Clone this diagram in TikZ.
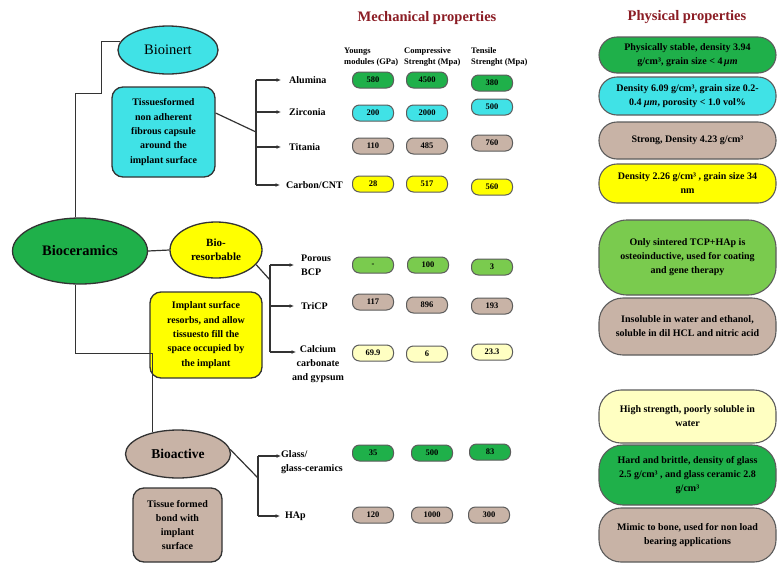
\documentclass[tikz,border=0pt]{standalone}
\usepackage{fontspec}
\setmainfont{Liberation Serif}
\usepackage{xcolor}
\usepackage{tikz}
\usetikzlibrary{arrows.meta, shapes.geometric, calc}
\definecolor{dg}{HTML}{1FB04A}
\definecolor{cy}{HTML}{40E2E6}
\definecolor{tp}{HTML}{C8B3A6}
\definecolor{ye}{HTML}{FFFF00}
\definecolor{lg}{HTML}{7ACB4E}
\definecolor{py}{HTML}{FFFFC2}
\definecolor{tt}{HTML}{8B1C24}
\definecolor{ln}{HTML}{333333}

\begin{document}
\begin{tikzpicture}[x=1pt, y=-1pt,
  link/.style={line width=1.2pt, color=ln},
  arr/.style={link, -{Latex[length=4.5pt,width=4pt]}},
  oval/.style={ellipse, draw=ln, line width=1.3pt, inner sep=0pt, align=center},
  note/.style={draw=ln, line width=1.3pt, rounded corners=11pt, align=center, inner sep=2pt,
               font=\bfseries\fontsize{10}{14.3}\selectfont},
  val/.style={draw=ln!80, line width=1pt, rounded corners=7pt, minimum width=41pt,
              minimum height=16pt, inner sep=0pt, font=\bfseries\fontsize{8.5}{10}\selectfont},
  phys/.style={draw=ln!80, line width=1.1pt, rounded corners=18pt, minimum width=177pt,
               align=center, inner sep=2pt, font=\bfseries\fontsize{10}{14}\selectfont},
  mat/.style={anchor=west, inner sep=1pt, align=left, font=\bfseries\fontsize{10}{14}\selectfont},
  head/.style={anchor=west, inner sep=0pt, align=left, font=\bfseries\fontsize{8.5}{10.5}\selectfont},
  title/.style={text=tt, font=\bfseries\fontsize{14.5}{16}\selectfont}]

\fill[white] (0,0) rectangle (777,563);
\useasboundingbox (0,0) rectangle (777,563);

% main classes
\node[oval, fill=dg, minimum width=135pt, minimum height=66pt,
      font=\bfseries\fontsize{14.5}{16}\selectfont] (bc) at (80,251) {Bioceramics};
\node[oval, fill=cy, minimum width=100pt, minimum height=48pt,
      font=\fontsize{14.5}{16}\selectfont] (bi) at (168,50) {Bioinert};
\node[oval, fill=ye, minimum width=92pt, minimum height=56pt,
      font=\bfseries\fontsize{11}{14}\selectfont] (br) at (216,250) {Bio-\\resorbable};
\node[oval, fill=tp, minimum width=105pt, minimum height=48pt,
      font=\bfseries\fontsize{13.5}{16}\selectfont] (ba) at (178,454) {Bioactive};

% tissue response notes
\node[note, fill=cy, minimum width=103pt, minimum height=90pt] (ts) at (163.5,132)
  {Tissuesformed\\non adherent\\fibrous capsule\\around the\\implant surface};
\node[note, fill=ye, minimum width=112pt, minimum height=86pt] (ib) at (206,335)
  {Implant surface\\resorbs, and allow\\tissuesto fill the\\space occupied by\\the implant};
\node[note, fill=tp, minimum width=89pt, minimum height=74pt] (tb) at (177.5,525)
  {Tissue formed\\bond with\\implant\\surface};

% tree lines
\draw[link] (bc.97) -- ++(0,-124) -- ++(26,0) |- (bi.170);
\draw[link] (bc.east) -- (br.west);
\draw[link] (bc.263) -- ++(0,69) -| (ba.140);

% materials
\node[mat] (al) at (288,80) {Alumina};
\node[mat] (zr) at (288,112) {Zirconia};
\node[mat] (ti) at (288,147) {Titania};
\node[mat] (cn) at (285,185) {Carbon/CNT};
\node[mat] (pb) at (300,265) {Porous\\BCP};
\node[mat] (tc) at (300,306) {TriCP};
\node[mat, anchor=north, align=center] (cc) at (318,344) {Calcium\\carbonate\\and gypsum};
\node[mat, anchor=north west] (gl) at (280,449) {Glass/\\glass-ceramics};
\node[mat] (hp) at (284,516) {HAp};

\coordinate (ccin) at (296,352);
\coordinate (glin) at (281,456);

% bioinert bracket
\coordinate (bA) at (256,0);
\draw[link] (bA |- al.west) -- (bA |- cn.west);
\draw[arr] (bA |- al.west) -- ([xshift=-7pt]al.west);
\draw[arr] (bA |- zr.west) -- ([xshift=-7pt]zr.west);
\draw[arr] (bA |- ti.west) -- ([xshift=-7pt]ti.west);
\draw[arr] (bA |- cn.west) -- ([xshift=-5pt]cn.west);
\draw[link] (ts.20) -- (bA |- ts.east);

% bioresorbable bracket
\coordinate (bB) at (270,0);
\coordinate (jB) at (270,280);
\draw[link] (bB |- pb.west) -- (bB |- ccin);
\draw[arr] (bB |- pb.west) -- ([xshift=-6pt]pb.west);
\draw[arr] (bB |- tc.west) -- ([xshift=-6pt]tc.west);
\draw[arr] (bB |- ccin) -- (ccin);
\draw[link] (br.-20) -- (jB);

% bioactive bracket
\coordinate (bC) at (258,0);
\coordinate (jC) at (258,478);
\draw[link] (bC |- glin) -- (bC |- hp.west);
\draw[arr] (bC |- glin) -- (glin);
\draw[arr] (bC |- hp.west) -- ([xshift=-4pt]hp.west);
\draw[link] (ba.5) -- (jC);

% column titles
\node[title] (mt) at (427,18) {Mechanical properties};
\node[title] (pt) at (687,17) {Physical properties};
\node[head] (h1) at (344,57) {Youngs\\modules (GPa)};
\node[head] (h2) at (404,57) {Compressive\\Strenght (Mpa)};
\node[head] (h3) at (471,57) {Tensile\\Strenght (Mpa)};

% mechanical values
\node[val, fill=dg] (al1) at (373,80) {580};
\node[val, fill=dg] (al2) at (427,80) {4500};
\node[val, fill=dg] (al3) at (492,83) {380};
\node[val, fill=cy] (zr1) at (373,113) {200};
\node[val, fill=cy] (zr2) at (427,113) {2000};
\node[val, fill=cy] (zr3) at (492,107) {500};
\node[val, fill=tp] (ti1) at (373,146) {110};
\node[val, fill=tp] (ti2) at (427,146) {485};
\node[val, fill=tp] (ti3) at (492,143) {760};
\node[val, fill=ye] (cn1) at (373,184) {28};
\node[val, fill=ye] (cn2) at (427,184) {517};
\node[val, fill=ye] (cn3) at (492,187) {560};
\node[val, fill=lg] (pb1) at (373,265) {-};
\node[val, fill=lg] (pb2) at (428,265) {100};
\node[val, fill=lg] (pb3) at (492,267) {3};
\node[val, fill=tp] (tc1) at (373,302) {117};
\node[val, fill=tp] (tc2) at (427,305) {896};
\node[val, fill=tp] (tc3) at (492,306) {193};
\node[val, fill=py] (cc1) at (373,353) {69.9};
\node[val, fill=py] (cc2) at (427,354) {6};
\node[val, fill=py] (cc3) at (492,352) {23.3};
\node[val, fill=dg] (gl1) at (373,453) {35};
\node[val, fill=dg] (gl2) at (432,453) {500};
\node[val, fill=dg] (gl3) at (490,452) {83};
\node[val, fill=tp] (hp1) at (373,515) {120};
\node[val, fill=tp] (hp2) at (432,515) {1000};
\node[val, fill=tp] (hp3) at (489,515) {300};

% physical properties
\node[phys, fill=dg, minimum height=36pt] (p1) at (687.5,55)
  {Physically stable, density 3.94\\g/cm³, grain size < 4\,\textit{μm}};
\node[phys, fill=cy, minimum height=38pt] (p2) at (687.5,96)
  {Density 6.09 g/cm³, grain size 0.2-\\0.4 \textit{μm}, porosity < 1.0 vol\%};
\node[phys, fill=tp, minimum height=37pt] (p3) at (687.5,140.5)
  {Strong, Density 4.23 g/cm³};
\node[phys, fill=ye, minimum height=39pt] (p4) at (687.5,183.5)
  {Density 2.26 g/cm³ , grain size 34\\nm};
\node[phys, fill=lg, minimum height=75pt, rounded corners=28pt] (p5) at (687.5,257.5)
  {Only sintered TCP+HAp is\\osteoinductive, used for coating\\and gene therapy};
\node[phys, fill=tp, minimum height=57pt, rounded corners=24pt] (p6) at (687.5,326.5)
  {Insoluble in water and ethanol,\\soluble in dil HCL and nitric acid};
\node[phys, fill=py, minimum height=53pt, rounded corners=22pt] (p7) at (687.5,416.5)
  {High strength, poorly soluble in\\water};
\node[phys, fill=dg, minimum height=60pt, rounded corners=24pt] (p8) at (687.5,475)
  {Hard and brittle, density of glass\\2.5 g/cm³ , and glass ceramic 2.8\\g/cm³};
\node[phys, fill=tp, minimum height=54pt, rounded corners=22pt] (p9) at (687.5,535)
  {Mimic to bone, used for non load\\bearing applications};

\end{tikzpicture}
\end{document}
